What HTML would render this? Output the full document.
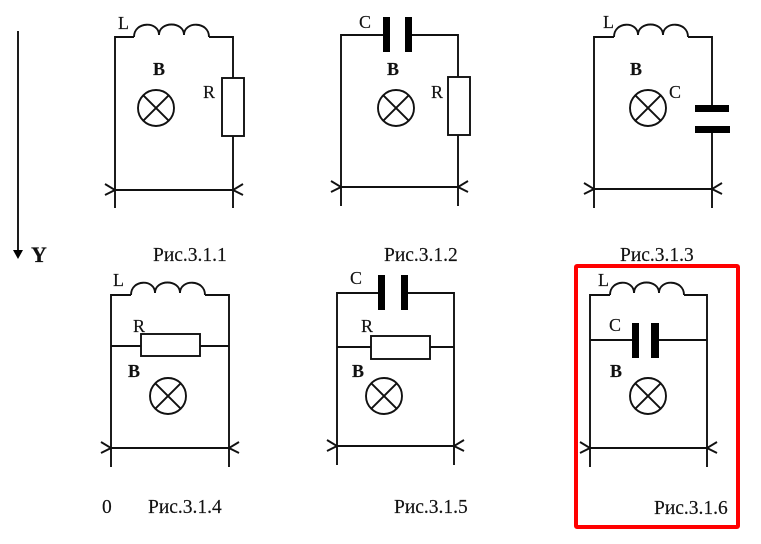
<!DOCTYPE html>
<html><head><meta charset="utf-8"><style>
html,body{margin:0;padding:0;background:#fff}
svg{display:block}
text{font-family:"Liberation Serif",serif;font-size:18px;fill:#111;stroke:#111;stroke-width:.15px}
.b{font-weight:bold}
.c{font-size:19.5px}
path,line,circle,rect.o{fill:none;stroke:#111;stroke-width:1.9}
rect.o{fill:#fff}
rect.p{fill:#000}
</style></head><body>
<svg width="761" height="544" viewBox="0 0 761 544" xmlns="http://www.w3.org/2000/svg">
<defs>
<g id="lamp"><circle r="18"/><line x1="-12.7" y1="-12.7" x2="12.7" y2="12.7"/><line x1="-12.7" y1="12.7" x2="12.7" y2="-12.7"/></g>
</defs>
<!-- axis -->
<line x1="18" y1="31" x2="18" y2="251"/>
<polygon points="13,250 23,250 18,259" fill="#000"/>
<text x="31" y="262" class="b" style="font-size:22px">Y</text>

<!-- 1 -->
<path d="M134 37H115V208M209 37H233V78M233 136V208M134 37C134 21 159 21 159 35C159 21 184 21 184 35C184 21 209 21 209 37M115 190H233M105 184L115 190L105 195M243 184L233 190L243 195"/>
<rect class="o" x="222" y="78" width="22" height="58"/>
<use href="#lamp" x="156" y="108"/>
<text x="118" y="29">L</text><text x="153" y="75" class="b">B</text><text x="203" y="98">R</text>
<text x="153" y="261" class="c">Рис.3.1.1</text>

<!-- 2 -->
<path d="M383 35H341V206M412 35H458V77M458 135V206M341 187H458M331 181L341 187L331 192M468 181L458 187L468 192"/>
<rect class="p" x="383" y="17" width="7" height="35"/><rect class="p" x="405" y="17" width="7" height="35"/>
<rect class="o" x="448" y="77" width="22" height="58"/>
<use href="#lamp" x="396" y="108"/>
<text x="359" y="28">C</text><text x="387" y="75" class="b">B</text><text x="431" y="98">R</text>
<text x="384" y="261" class="c">Рис.3.1.2</text>

<!-- 3 -->
<path d="M614 37H594V208M688 37H712V105M712 133V208M614 37C614 21 638 21 638 35C638 21 663 21 663 35C663 21 688 21 688 37M594 189H712M584 183L594 189L584 194M722 183L712 189L722 194"/>
<rect class="p" x="695" y="105" width="34" height="7"/><rect class="p" x="695" y="126" width="35" height="7"/>
<use href="#lamp" x="648" y="108"/>
<text x="603" y="28">L</text><text x="630" y="75" class="b">B</text><text x="669" y="98">C</text>
<text x="620" y="261" class="c">Рис.3.1.3</text>

<!-- 4 -->
<path d="M131 295H111V467M205 295H229V467M131 295C131 279 155 279 155 293C155 279 180 279 180 293C180 279 205 279 205 295M111 346H141M200 346H229M111 448H229M101 442L111 448L101 453M239 442L229 448L239 453"/>
<rect class="o" x="141" y="334" width="59" height="22"/>
<use href="#lamp" x="168" y="396"/>
<text x="113" y="286">L</text><text x="133" y="332">R</text><text x="128" y="377" class="b">B</text>
<text x="102" y="513" class="c">0</text><text x="148" y="513" class="c">Рис.3.1.4</text>

<!-- 5 -->
<path d="M378 293H337V465M408 293H454V465M337 347H371M430 347H454M337 446H454M327 440L337 446L327 451M464 440L454 446L464 451"/>
<rect class="p" x="378" y="275" width="7" height="35"/><rect class="p" x="401" y="275" width="7" height="35"/>
<rect class="o" x="371" y="336" width="59" height="23"/>
<use href="#lamp" x="384" y="396"/>
<text x="350" y="284">C</text><text x="361" y="332">R</text><text x="352" y="377" class="b">B</text>
<text x="394" y="513" class="c">Рис.3.1.5</text>

<!-- 6 -->
<path d="M610 295H590V467M684 295H707V467M610 295C610 279 634 279 634 293C634 279 659 279 659 293C659 279 684 279 684 295M590 340H632M659 340H707M590 448H707M580 442L590 448L580 453M717 442L707 448L717 453"/>
<rect class="p" x="632" y="323" width="7" height="35"/><rect class="p" x="651" y="323" width="8" height="35"/>
<use href="#lamp" x="648" y="396"/>
<text x="598" y="286">L</text><text x="609" y="331">C</text><text x="610" y="377" class="b">B</text>
<text x="654" y="514" class="c">Рис.3.1.6</text>

<rect x="576" y="266" width="162" height="261" rx="1" fill="none" stroke="#f00" stroke-width="4"/>
</svg>
</body></html>
